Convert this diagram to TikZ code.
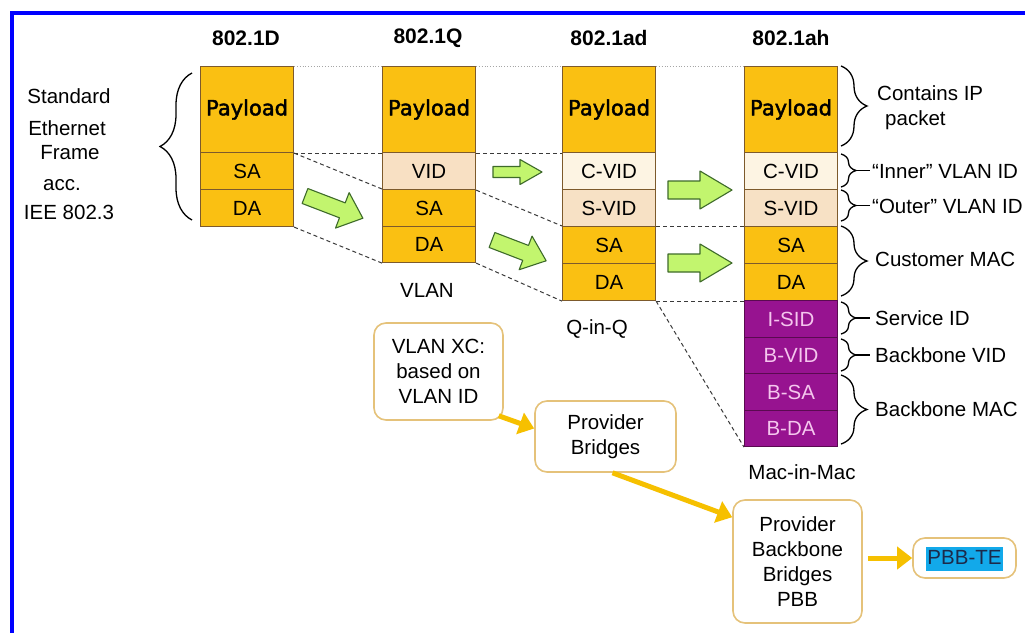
\documentclass[tikz,border=0pt]{standalone}
\usepackage{fontspec}
\setmainfont{Liberation Sans}
\newfontfamily\payfont[FakeBold=2]{DejaVu Sans}
\usetikzlibrary{arrows.meta,decorations.pathreplacing,calc}
\definecolor{pay}{HTML}{FAC012}
\definecolor{vidc}{HTML}{F8E0C3}
\definecolor{cvid}{HTML}{FDF4E3}
\definecolor{svid}{HTML}{F7E1C5}
\definecolor{purp}{HTML}{971390}
\definecolor{purtext}{HTML}{F5C6EE}
\definecolor{purb}{HTML}{5A0A50}
\definecolor{cellb}{HTML}{7D5A2C}
\definecolor{gfill}{HTML}{C2F56E}
\definecolor{gline}{HTML}{3E6B2A}
\definecolor{yel}{HTML}{F6C000}
\definecolor{boxb}{HTML}{E5C27A}
\definecolor{hl}{HTML}{12A9EA}
\definecolor{tetext}{HTML}{1C2A4A}
\definecolor{dashc}{HTML}{3A3A3A}
\definecolor{pureblue}{HTML}{0000FF}
\newcommand\fsz{\fontsize{20.5}{25}\selectfont}
\newcommand\garrow[7]{\draw[garr, shift={(#1,#2)}, rotate=#3] (0,-#6) -- ({#4-#5},-#6) -- ({#4-#5},-#7) -- (#4,0) -- ({#4-#5},#7) -- ({#4-#5},#6) -- (0,#6) -- cycle;}
\begin{document}
\begin{tikzpicture}[x=1pt,y=-1pt,
  cell/.style={draw=cellb, line width=1.1, minimum width=93, inner sep=0, anchor=north west, font=\fsz, text=black},
  cellp/.style={cell, fill=purp, text=purtext, draw=purb},
  rbox/.style={draw=boxb, line width=1.6, rounded corners=12, fill=white, align=center, font=\fsz, inner sep=0},
  lbl/.style={font=\fsz, inner sep=0},
  rlbl/.style={font=\fsz, inner sep=0, anchor=west},
  title/.style={font=\fontsize{21}{25}\selectfont\bfseries, inner sep=0},
  dsh/.style={draw=dashc, dash pattern=on 4pt off 3pt, line width=1},
  dotl/.style={draw=gray!70, dotted, line width=0.8},
  brc/.style={decorate, decoration={brace, amplitude=#1}, line width=1.3},
  brc/.default=16,
  garr/.style={fill=gfill, draw=gline, line width=1.1, line join=round},
  yarr/.style={draw=yel, line width=5, -{Triangle[length=15pt,width=22pt]}},
  payl/.style={font=\fontsize{21}{25}\selectfont\payfont}
]
\useasboundingbox (0,0) rectangle (1025,632);
\clip (0,0) rectangle (1025,632);
\fill[white] (0,0) rectangle (1025,632);
\draw[pureblue, line width=4] (12,640) -- (12,13) -- (1030,13);

% titles
\node[title] (tD) at (246,38) {802.1D};
\node[title] (tQ) at (428,38) {802.1Q};
\node[title] (tad) at (609,38) {802.1ad};
\node[title] (tah) at (791,38) {802.1ah};

% columns
\node[cell, fill=pay, minimum height=86, payl] (dpay) at (200,66) {Payload};
\node[cell, fill=pay, minimum height=37] (dsa) at (200,152) {SA};
\node[cell, fill=pay, minimum height=37] (dda) at (200,189) {DA};

\node[cell, fill=pay, minimum height=86, payl] (qpay) at (382,66) {Payload};
\node[cell, fill=vidc, minimum height=37] (qvid) at (382,152) {VID};
\node[cell, fill=pay, minimum height=37] (qsa) at (382,189) {SA};
\node[cell, fill=pay, minimum height=36] (qda) at (382,226) {DA};

\node[cell, fill=pay, minimum height=86, payl] (adpay) at (562,66) {Payload};
\node[cell, fill=cvid, minimum height=37] (adcvid) at (562,152) {C-VID};
\node[cell, fill=svid, minimum height=37] (adsvid) at (562,189) {S-VID};
\node[cell, fill=pay, minimum height=37] (adsa) at (562,226) {SA};
\node[cell, fill=pay, minimum height=37] (adda) at (562,263) {DA};

\node[cell, fill=pay, minimum height=86, payl] (ahpay) at (744,66) {Payload};
\node[cell, fill=cvid, minimum height=37] (ahcvid) at (744,152) {C-VID};
\node[cell, fill=svid, minimum height=37] (ahsvid) at (744,189) {S-VID};
\node[cell, fill=pay, minimum height=37] (ahsa) at (744,226) {SA};
\node[cell, fill=pay, minimum height=37] (ahda) at (744,263) {DA};
\node[cellp, minimum height=37] (ahisid) at (744,300) {I-SID};
\node[cellp, minimum height=36] (ahbvid) at (744,337) {B-VID};
\node[cellp, minimum height=37] (ahbsa) at (744,373) {B-SA};
\node[cellp, minimum height=36] (ahbda) at (744,410) {B-DA};

% dotted top line
\draw[dotl] (dpay.north east) -- (qpay.north west);
\draw[dotl] (qpay.north east) -- (adpay.north west);
\draw[dotl] (adpay.north east) -- (ahpay.north west);

% dashed lines
\draw[dsh] (dpay.south east) -- (qpay.south west);
\draw[dsh] (dpay.south east) -- (qsa.north west);
\draw[dsh] (dda.south east) -- (qda.south west);
\draw[dsh] (qpay.south east) -- (adpay.south west);
\draw[dsh] (qvid.south east) -- (adsa.north west);
\draw[dsh] (qda.south east) -- (adda.south west);
\draw[dsh] (adsa.north east) -- (ahsa.north west);
\draw[dsh] (adda.south east) -- (ahda.south west);
\draw[dsh] (adda.south east) -- (ahbda.south west);

% green block arrows
\garrow{305}{196}{-21}{62}{22}{8}{19}
\garrow{492}{240}{-21}{58}{22}{8}{18}
\garrow{493}{172}{0}{49}{22}{5.5}{12.5}
\garrow{668}{190}{0}{64}{32}{9}{19}
\garrow{668}{263}{0}{64}{32}{9}{19}

% left text and brace
\node[lbl] (l1) at (69,96) {Standard};
\node[lbl] (l2) at (67,128) {Ethernet};
\node[lbl] (l3) at (70,153) {Frame};
\node[lbl] (l4) at (62,185) {acc.};
\node[lbl] (l5) at (69,212) {IEE 802.3};
\draw[brc=32] (192,220) -- (192,73);

% right braces and labels
\draw[brc=26] (841,66) -- (841,146);
\node[rlbl, align=left] (rpay) at (877,108) {Contains IP\\\hspace*{8pt}packet};
\draw[brc=15] (841,154) -- (841,187);
\draw[line width=1.3] (856,170.5) -- (870,170.5);
\node[rlbl] (rin) at (872,172) {“Inner” VLAN ID};
\draw[brc=15] (841,190) -- (841,221);
\draw[line width=1.3] (856,205.5) -- (870,205.5);
\node[rlbl] (rout) at (872,206) {“Outer” VLAN ID};
\draw[brc=26] (841,226) -- (841,296);
\node[rlbl] (rcm) at (875,259) {Customer MAC};
\draw[brc=15] (841,302) -- (841,334);
\draw[line width=1.3] (856,318) -- (870,318);
\node[rlbl] (rsid) at (875,318) {Service ID};
\draw[brc=15] (841,339) -- (841,371);
\draw[line width=1.3] (856,355) -- (870,355);
\node[rlbl] (rbvid) at (875,355) {Backbone VID};
\draw[brc=26] (841,375) -- (841,444);
\node[rlbl] (rbmac) at (875,409) {Backbone MAC};

% column captions
\node[lbl] (cvlan) at (427,290) {VLAN};
\node[lbl] (cqinq) at (597,329) {Q-in-Q};
\node[lbl] (cmac) at (802,472) {Mac-in-Mac};

% rounded boxes
\node[rbox, minimum width=129, minimum height=97] (xc) at (438.5,371.5) {VLAN XC:\\based on\\VLAN ID};
\node[rbox, minimum width=141, minimum height=71] (pb) at (605.5,436.5) {Provider\\Bridges};
\node[rbox, minimum width=129, minimum height=123] (pbb) at (797.5,561.5) {Provider\\Backbone\\Bridges\\PBB};
\node[rbox, minimum width=103, minimum height=40] (te) at (964.5,558) {};
\node[fill=hl, text=tetext, font=\fsz, inner xsep=1.5, inner ysep=2, text height=15, text depth=5] (tet) at (964.5,559) {PBB-TE};

% yellow arrows
\draw[yarr] ([xshift=-5pt,yshift=5pt]xc.south east) -- ([yshift=8pt]pb.west);
\draw[yarr] ([xshift=7pt]pb.south) -- ([yshift=-18pt]pbb.north west);
\draw[yarr] ($(pbb.east |- te.west)+(5,0)$) -- (te.west);
\end{tikzpicture}
\end{document}
